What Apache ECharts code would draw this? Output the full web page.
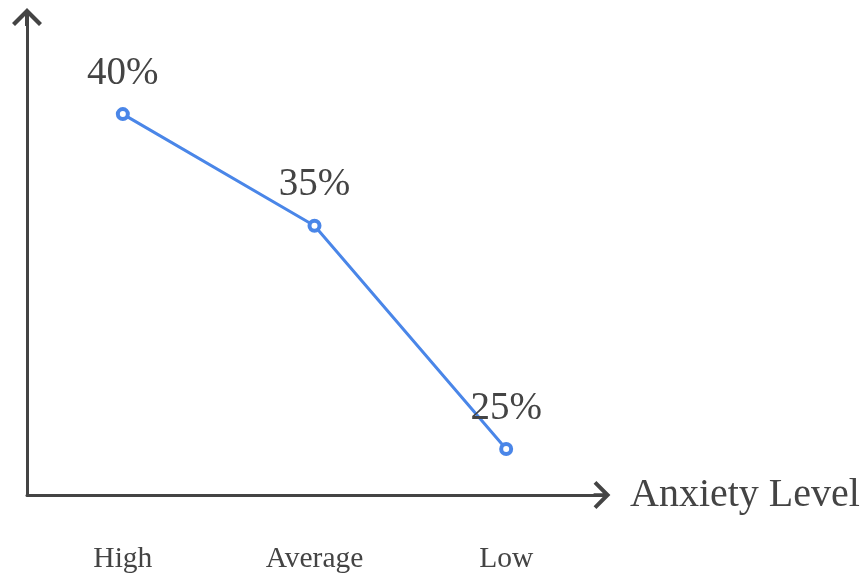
<!DOCTYPE html>
<html>
<head>
<meta charset="utf-8">
<script src="https://cdn.jsdelivr.net/npm/echarts@6/dist/echarts.min.js"></script>
<style>
  html, body { margin: 0; padding: 0; background: #ffffff; }
  #chart { width: 864px; height: 576px; }
</style>
</head>
<body>
<div id="chart"></div>
<script>
// Share of respondents by anxiety level
const categories = ['High', 'Average', 'Low'];
const shares = [40, 35, 25];
const xAxisName = 'Anxiety Level';

const axisColor = '#444444';
const lineColor = '#4a86e8';
const serif = '"Liberation Serif", "Times New Roman", serif';

// Open chevron arrow head with a short stem, pointing up (rotated by the axis)
const chevron = 'path://M15,0 L30,15 L27,18 L17,8 L17,18 L13,18 L13,8 L3,18 L0,15 Z';

const chart = echarts.init(document.getElementById('chart'), null, { renderer: 'canvas' });

chart.setOption({
  animation: false,
  backgroundColor: '#ffffff',
  grid: { left: 27, right: 262, top: 17, bottom: 81, containLabel: false },
  xAxis: {
    type: 'category',
    data: categories,
    boundaryGap: true,
    name: xAxisName,
    nameLocation: 'end',
    nameGap: 28,
    nameTextStyle: { fontFamily: serif, fontSize: 40, color: axisColor, verticalAlign: 'middle' },
    axisLine: {
      show: true,
      symbol: ['none', chevron],
      symbolSize: [28, 18],
      lineStyle: { color: axisColor, width: 3 }
    },
    axisTick: { show: false },
    axisLabel: { fontFamily: serif, fontSize: 29.5, color: axisColor, margin: 49 },
    splitLine: { show: false }
  },
  yAxis: {
    type: 'value',
    min: 22.94,
    max: 44.35,
    axisLine: {
      show: true,
      symbol: ['none', chevron],
      symbolSize: [30, 18],
      lineStyle: { color: axisColor, width: 3 }
    },
    axisTick: { show: false },
    axisLabel: { show: false },
    splitLine: { show: false }
  },
  series: [{
    type: 'line',
    data: shares,
    symbol: 'circle',
    symbolSize: 10,
    lineStyle: { color: lineColor, width: 3 },
    itemStyle: { color: '#ffffff', borderColor: lineColor, borderWidth: 4 },
    label: {
      show: true,
      position: 'top',
      distance: 14,
      formatter: p => p.value + '%',
      fontFamily: serif,
      fontSize: 39,
      color: axisColor
    }
  }]
});
</script>
</body>
</html>
